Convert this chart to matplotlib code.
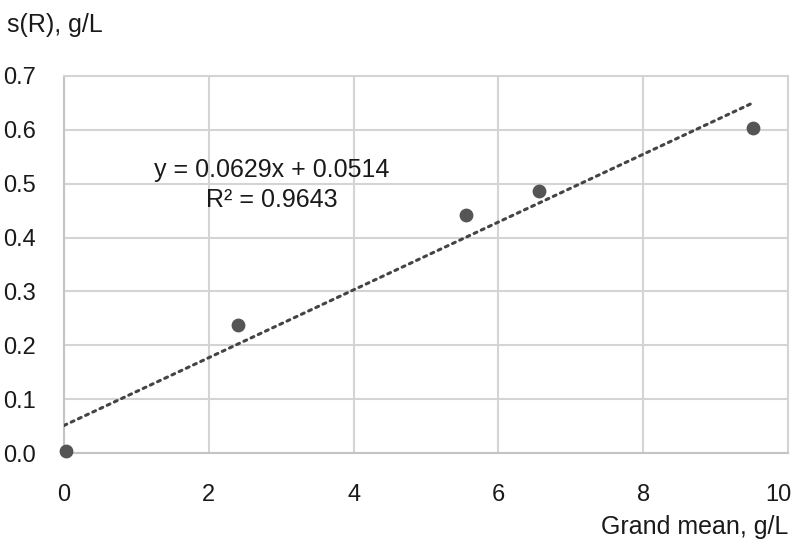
import numpy as np
import matplotlib
matplotlib.use("Agg")
import matplotlib.pyplot as plt
import matplotlib.transforms as mtrans

plt.rcParams['font.family'] = ['Liberation Sans', 'DejaVu Sans']

grand_mean = [0.03, 2.40, 5.55, 6.56, 9.52]
s_r = [0.003, 0.237, 0.441, 0.486, 0.603]
x_ticks = [0, 2, 4, 6, 8, 10]
y_ticks = [0.0, 0.1, 0.2, 0.3, 0.4, 0.5, 0.6, 0.7]
eq_text = "y = 0.0629x + 0.0514"
r2_text = "R\u00b2 = 0.9643"

fig = plt.figure(figsize=(7.97, 5.42), dpi=100)
ax = fig.add_axes([0.0803, 0.1642, 0.9084, 0.6956])

ax.set_xlim(0, 10)
ax.set_ylim(0, 0.7)
ax.set_xticks(x_ticks)
ax.set_yticks(y_ticks)
ax.set_xticklabels([str(t) for t in x_ticks])
ax.set_yticklabels([f"{t:.1f}" for t in y_ticks])
ax.tick_params(length=0, labelsize=17, colors='#1a1a1a')
ax.tick_params(axis='y', pad=20)
ax.tick_params(axis='x', pad=22)
ax.grid(True, color='#d4d4d4', lw=1.5)
ax.set_axisbelow(True)
for sp in ax.spines.values():
    sp.set_color('#d4d4d4')
    sp.set_linewidth(1.5)
ax.spines['left'].set_color('#c4c4c4')
ax.spines['bottom'].set_color('#c4c4c4')

# shift the last x tick label left so it stays inside the figure
last = ax.get_xticklabels()[-1]
last.set_transform(last.get_transform() + mtrans.ScaledTranslation(-7/72, 0, fig.dpi_scale_trans))

x = np.array(grand_mean)
y = np.array(s_r)
slope, intercept = np.polyfit(x, y, 1)
xs = np.array([0, x.max()])
ax.plot(xs, slope * xs + intercept, color='#444444', lw=2.2, ls=(0, (1, 1.6)),
        dash_capstyle='round', zorder=3)
ax.scatter(x, y, s=80, color='#555555', zorder=4, clip_on=False)

ax.text(0.287, 0.751, eq_text, transform=ax.transAxes, ha='center', va='center',
        fontsize=18, color='#1a1a1a')
ax.text(0.287, 0.671, r2_text, transform=ax.transAxes, ha='center', va='center',
        fontsize=18, color='#1a1a1a')

fig.text(7/797, 1 - 25/542, "s(R), g/L", ha='left', va='center', fontsize=18, color='#1a1a1a')
fig.text(788/797, 1 - 527/542, "Grand mean, g/L", ha='right', va='center', fontsize=18, color='#1a1a1a')

fig.savefig("out.png", dpi=100)
